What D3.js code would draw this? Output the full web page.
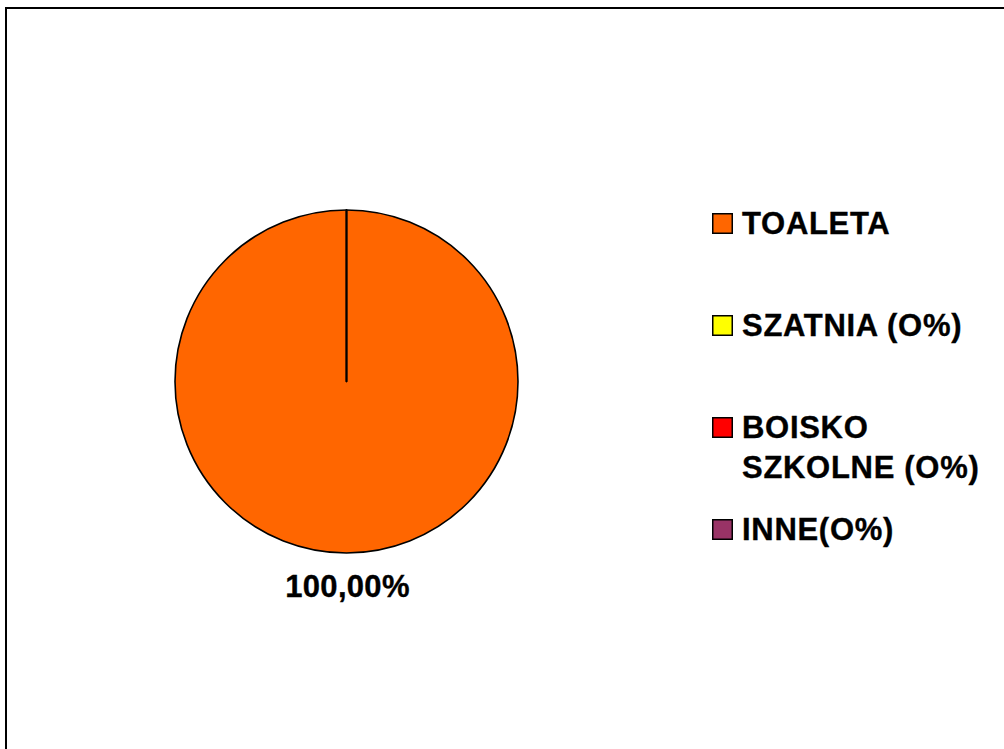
<!DOCTYPE html>
<html>
<head>
<meta charset="utf-8">
<script src="https://cdn.jsdelivr.net/npm/d3@7"></script>
<style>
  html, body { margin: 0; padding: 0; background: #fff; overflow: hidden; }
  svg { display: block; }
  text { font-family: "Liberation Sans", Arial, sans-serif; font-weight: bold; fill: #000; stroke: #000; stroke-width: 0.35px; }
</style>
</head>
<body>
<script>
const categories = ["TOALETA", "SZATNIA (O%)", "BOISKO\nSZKOLNE (O%)", "INNE(O%)"];
const values = [100, 0, 0, 0];
const colors = ["#FF6600", "#FFFF00", "#FF0000", "#993366"];
const dataLabels = ["100,00%"];

const W = 1004, H = 749;
const svg = d3.select("body").append("svg").attr("width", W).attr("height", H);

// outer frame (chart area border, extends past right and bottom edges)
svg.append("rect")
  .attr("x", 6).attr("y", 8)
  .attr("width", 1100).attr("height", 800)
  .attr("fill", "#fff")
  .attr("stroke", "#000").attr("stroke-width", 2);

const data = categories.map((c, i) => ({ name: c, value: values[i], color: colors[i] }));

const cx = 346.5, cy = 381.5, R = 171.5;
const pie = d3.pie().sort(null).value(d => d.value);
const arc = d3.arc().innerRadius(0).outerRadius(R);
const arcs = pie(data);

const g = svg.append("g").attr("transform", `translate(${cx},${cy})`);
g.selectAll("path.slice")
  .data(arcs)
  .join("path")
  .attr("class", "slice")
  .attr("d", arc)
  .attr("fill", d => d.data.color)
  .attr("stroke", "#000")
  .attr("stroke-width", 1.6)
  .attr("stroke-linejoin", "round");

// data label below the pie
const nonZero = arcs.filter(d => d.data.value > 0);
g.selectAll("text.dl")
  .data(nonZero)
  .join("text")
  .attr("class", "dl")
  .attr("x", 1)
  .attr("y", R + 44)
  .attr("text-anchor", "middle")
  .attr("font-size", 31)
  .attr("letter-spacing", 0.3)
  .text((d, i) => dataLabels[i]);

// legend
const legendY = d3.scaleLinear().domain([0, 1]).range([213, 315]);
const lg = svg.append("g");
const items = lg.selectAll("g.item")
  .data(data)
  .join("g")
  .attr("class", "item")
  .attr("transform", (d, i) => `translate(712,${legendY(i)})`);

items.append("rect")
  .attr("x", 0.75).attr("y", 0.75)
  .attr("width", 19.5).attr("height", 19.5)
  .attr("fill", d => d.color)
  .attr("stroke", "#000")
  .attr("stroke-width", 1.5);

items.append("text")
  .attr("x", 30)
  .attr("y", 21)
  .attr("font-size", 31)
  .attr("letter-spacing", 0.7)
  .selectAll("tspan")
  .data(d => d.name.split("\n"))
  .join("tspan")
  .attr("x", 30)
  .attr("dy", (t, j) => j === 0 ? 0 : 39.5)
  .text(t => t);
</script>
</body>
</html>
